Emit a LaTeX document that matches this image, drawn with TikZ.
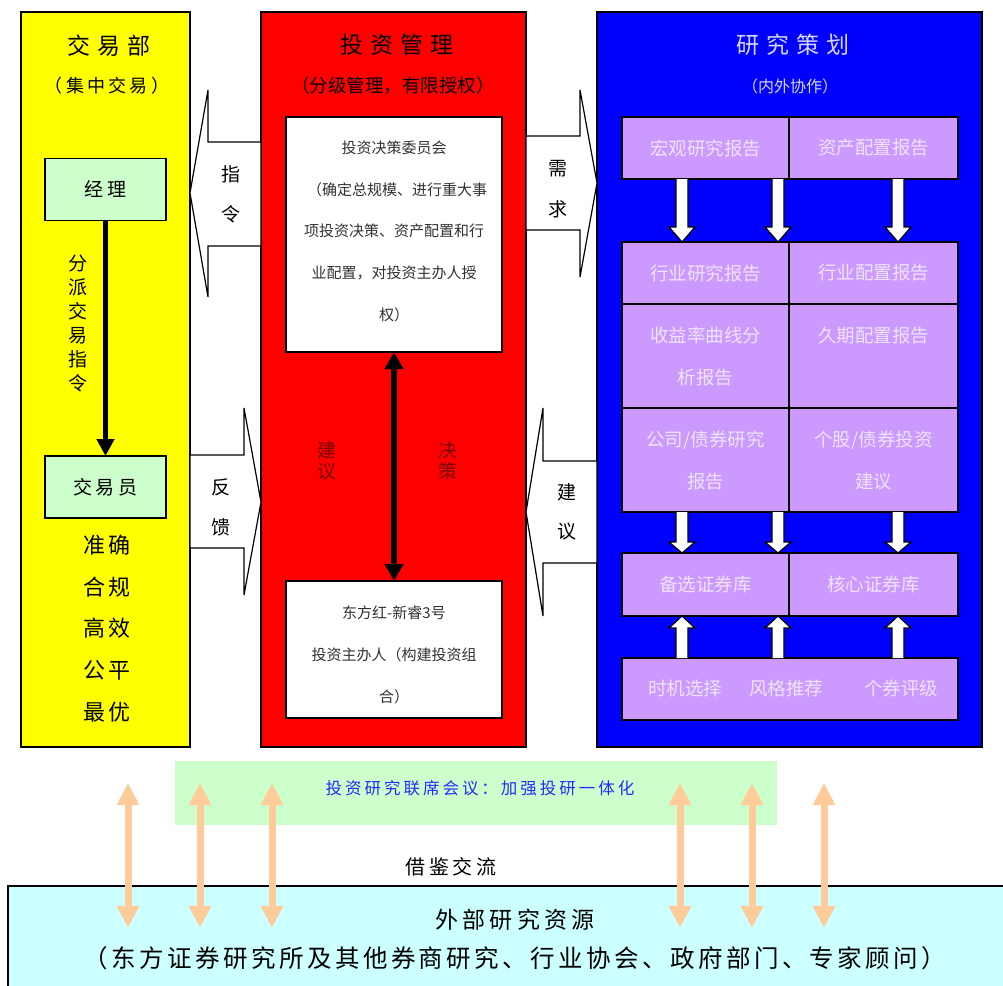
\documentclass[tikz,border=0pt]{standalone}
\usepackage{fontspec}
\setmainfont{Noto Sans CJK SC}
\newfontfamily\lsA[LetterSpace=30]{Noto Sans CJK SC}
\newfontfamily\lsB[LetterSpace=18]{Noto Sans CJK SC}
\newfontfamily\lsC[LetterSpace=14]{Noto Sans CJK SC}
\usetikzlibrary{arrows.meta}
\definecolor{yel}{RGB}{255,255,0}
\definecolor{rd}{RGB}{255,0,0}
\definecolor{bl}{RGB}{0,0,255}
\definecolor{lgreen}{RGB}{204,255,204}
\definecolor{purp}{RGB}{204,153,255}
\definecolor{cyanbg}{RGB}{204,255,255}
\definecolor{peach}{RGB}{255,204,153}
\definecolor{celltxt}{RGB}{238,228,255}
\definecolor{lav}{RGB}{215,215,255}
\definecolor{dkred}{RGB}{120,0,0}
\definecolor{gtxt}{RGB}{50,50,50}
\definecolor{meetblue}{RGB}{40,40,255}
\newcommand\vblk[4]{%
  \draw[fill=white,line width=1.2pt,line join=miter] (#1-6,#2) -- (#1-6,#4) -- (#1-13,#4) -- (#1,#3) -- (#1+13,#4) -- (#1+6,#4) -- (#1+6,#2);}
\begin{document}
\begin{tikzpicture}[x=1pt,y=-1pt,
  panel/.style={draw=black,line width=1.3pt,inner sep=0pt,outer sep=0pt},
  cell/.style={draw=black,line width=1.4pt,fill=purp,inner sep=0pt,outer sep=0pt,
    text=celltxt,align=center,font=\fontsize{18.5}{42}\selectfont},
  gbox/.style={draw=black,line width=1.3pt,fill=lgreen,inner sep=0pt,outer sep=0pt,
    minimum width=121pt,minimum height=62pt,font=\lsB\fontsize{19}{22}\selectfont},
  wbox/.style={draw=black,line width=1.3pt,fill=white,inner sep=0pt,outer sep=0pt,minimum width=216pt},
  wtxt/.style={text=gtxt,font=\fontsize{15}{18}\selectfont},
  arrtxt/.style={font=\fontsize{19}{22}\selectfont},
  redtxt/.style={text=dkred,align=center,inner sep=0pt,font=\fontsize{19}{21.5}\selectfont},
  blk/.style={fill=white,draw=black,line width=1.2pt,line join=miter},
  thick arrow/.style={line width=5.5pt},
  peacharrow/.style={peach,line width=7pt,{Triangle[length=22pt,width=21pt]}-{Triangle[length=22pt,width=21pt]}}
]
\useasboundingbox (0,0) rectangle (1003,985);
% panels
\node[panel,fill=yel,minimum width=169pt,minimum height=735pt] (yp) at (105.5,379.5) {};
\node[panel,fill=rd,minimum width=265pt,minimum height=735pt] (rp) at (393.5,379.5) {};
\node[panel,fill=bl,minimum width=385pt,minimum height=735pt] (bp) at (789.5,379.5) {};
% titles
\node[font=\lsA\fontsize{23}{26}\selectfont] (t1) at (109,46) {交易部};
\node[font=\lsB\fontsize{18}{22}\selectfont] (t1s) at (107,86) {（集中交易）};
\node[font=\lsA\fontsize{23}{26}\selectfont] (t2) at (397,45) {投资管理};
\node[font=\fontsize{18.5}{22}\selectfont] (t2s) at (393,86) {（分级管理，有限授权）};
\node[text=lav,font=\lsA\fontsize{23}{26}\selectfont] (t3) at (793,45) {研究策划};
\node[text=lav,font=\fontsize{16}{20}\selectfont] (t3s) at (790,86) {（内外协作）};
% yellow contents
\node[gbox] (jl) at (105.5,189.5) {经理};
\node[gbox] (jyy) at (105.5,487) {交易员};
\draw[thick arrow,-{Triangle[length=17pt,width=17pt]}] (jl.south) -- (jyy.north);
\node[align=center,font=\fontsize{19}{24}\selectfont] (fp) at (78,323) {分\\派\\交\\易\\指\\令};
\node[align=center,font=\lsB\fontsize{22}{41.75}\selectfont] (zq) at (107,628.5) {准确\\合规\\高效\\公平\\最优};
% red contents
\node[wbox,minimum height=235pt] (wb1) at (394,234.5) {};
\node[wtxt] (w11) at (394,148) {投资决策委员会};
\node[wtxt] (w12) at (397,190) {（确定总规模、进行重大事};
\node[wtxt] (w13) at (394,231) {项投资决策、资产配置和行};
\node[wtxt] (w14) at (394,273) {业配置，对投资主办人授};
\node[wtxt] (w15) at (394,315) {权）};
\node[wbox,minimum height=137pt] (wb2) at (394,649.5) {};
\node[wtxt] (w21) at (394,613) {东方红-新睿3号};
\node[wtxt] (w22) at (394,655) {投资主办人（构建投资组};
\node[wtxt] (w23) at (394,697) {合）};
\draw[thick arrow,{Triangle[length=17pt,width=18pt]}-{Triangle[length=17pt,width=18pt]}] (wb1.south) -- (wb2.north);
\node[redtxt] (jy) at (327,461) {建\\议};
\node[redtxt] (jc) at (448,461) {决\\策};
% big block arrows
\draw[blk] (190,193) -- (208,90) -- (208,142) -- (261,142) -- (261,246) -- (208,246) -- (208,297) -- cycle;
\node[arrtxt] (zl1) at (231,174) {指};
\node[arrtxt] (zl2) at (231,214) {令};
\draw[blk] (526,136) -- (580,136) -- (580,90) -- (597,183) -- (580,277) -- (580,230) -- (526,230) -- cycle;
\node[arrtxt] (xq1) at (558,169) {需};
\node[arrtxt] (xq2) at (558,209) {求};
\draw[blk] (190,455) -- (244,455) -- (244,408) -- (261,502) -- (244,595) -- (244,548) -- (190,548) -- cycle;
\node[arrtxt] (fk1) at (221,487) {反};
\node[arrtxt] (fk2) at (221,527) {馈};
\draw[blk] (597,461) -- (543,461) -- (543,408) -- (526,512) -- (543,616) -- (543,563) -- (597,563) -- cycle;
\node[arrtxt] (jyr1) at (567,492) {建};
\node[arrtxt] (jyr2) at (567,532) {议};
% blue grid
\node[cell,minimum width=167pt,minimum height=62pt] (c11) at (705.5,148) {宏观研究报告};
\node[cell,minimum width=169pt,minimum height=62pt] (c12) at (873.5,148) {资产配置报告};
\node[cell,minimum width=167pt,minimum height=62pt] (c21) at (705.5,273) {行业研究报告};
\node[cell,minimum width=169pt,minimum height=62pt] (c22) at (873.5,273) {行业配置报告};
\node[cell,minimum width=167pt,minimum height=104pt] (c31) at (705.5,356) {收益率曲线分\\析报告};
\node[cell,minimum width=169pt,minimum height=104pt] (c32) at (873.5,356) {久期配置报告\\\mbox{}};
\node[cell,minimum width=167pt,minimum height=104pt] (c41) at (705.5,460) {公司/债券研究\\报告};
\node[cell,minimum width=169pt,minimum height=104pt] (c42) at (873.5,460) {个股/债券投资\\建议};
\node[cell,minimum width=167pt,minimum height=63pt] (c51) at (705.5,584.5) {备选证券库};
\node[cell,minimum width=169pt,minimum height=63pt] (c52) at (873.5,584.5) {核心证券库};
\node[cell,minimum width=336pt,minimum height=62pt] (c61) at (790,689) {};
\node[text=celltxt,font=\fontsize{18.5}{22}\selectfont] (s1) at (685,688) {时机选择};
\node[text=celltxt,font=\fontsize{18.5}{22}\selectfont] (s2) at (786,688) {风格推荐};
\node[text=celltxt,font=\fontsize{18.5}{22}\selectfont] (s3) at (901,688) {个券评级};
% white block arrows in blue panel
\vblk{682}{179}{242}{227}
\vblk{778}{179}{242}{227}
\vblk{898}{179}{242}{227}
\vblk{682}{512}{553}{542}
\vblk{778}{512}{553}{542}
\vblk{898}{512}{553}{542}
\vblk{682}{658}{616}{628}
\vblk{778}{658}{616}{628}
\vblk{898}{658}{616}{628}
% bottom
\node[fill=lgreen,inner sep=0pt,minimum width=602pt,minimum height=64pt] (meet) at (476,793) {};
\node[text=meetblue,font=\lsB\fontsize{16.5}{20}\selectfont] (meett) at (480,788) {投资研究联席会议：加强投研一体化};
\node[font=\lsB\fontsize{20}{24}\selectfont] (jj) at (451,867) {借鉴交流};
\draw[line width=1.5pt,fill=cyanbg] (8,886) rectangle (1010,995);
\node[font=\lsB\fontsize{23}{26}\selectfont] (wb) at (515,920) {外部研究资源};
\node[font=\lsC\fontsize{24.5}{28}\selectfont] (wbs) at (515,958) {（东方证券研究所及其他券商研究、行业协会、政府部门、专家顾问）};
% peach double arrows
\foreach \i/\x in {1/128,2/200,3/272,4/680,5/752,6/824}{
  \coordinate (pa\i) at (\x,783);
  \coordinate (pb\i) at (\x,928);
  \draw[peacharrow] (pa\i) -- (pb\i);
}
\end{tikzpicture}
\end{document}
